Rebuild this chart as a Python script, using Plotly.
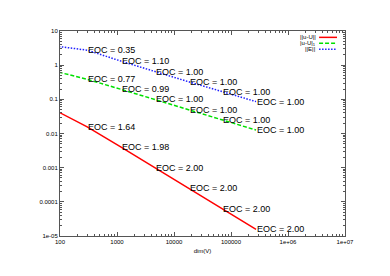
import numpy as np
import plotly.graph_objects as go

# ---- data ----
dims = [75, 300, 1180, 4600, 18200, 70500, 275000]
err_l2 = [0.052, 0.0157, 0.0040, 0.00101, 0.000252, 6.3e-5, 1.57e-5]
err_h1 = [0.69, 0.385, 0.196, 0.099, 0.0498, 0.025, 0.0126]
err_E = [3.7, 2.75, 1.31, 0.64, 0.325, 0.168, 0.0857]
eoc_l2 = ["1.64", "1.98", "2.00", "2.00", "2.00", "2.00"]
eoc_h1 = ["0.77", "0.99", "1.00", "1.00", "1.00", "1.00"]
eoc_E = ["0.35", "1.10", "1.00", "1.00", "1.00", "1.00"]
names = ["||u-U||", "|u-U|<sub>1</sub>", "||E||"]

x_ticks = [1e2, 1e3, 1e4, 1e5, 1e6, 1e7]
x_ticktext = ["100", "1000", "10000", "100000", "1e+06", "1e+07"]
y_ticks = [1e-5, 1e-4, 1e-3, 1e-2, 1e-1, 1, 10]
y_ticktext = ["1e-05", "0.0001", "0.001", "0.01", "0.1", "1", "10"]

FONT = "Liberation Sans, Arial, sans-serif"
series = [
    (err_l2, eoc_l2, "#ff0000", "solid"),
    (err_h1, eoc_h1, "#00e000", "4px,2px"),
    (err_E, eoc_E, "#2020ff", "1.5px,1.5px"),
]

fig = go.Figure()
annotations = []
shapes = []
for (vals, eocs, col, dash), nm, k in zip(series, names, range(3)):
    fig.add_trace(go.Scatter(x=dims, y=vals, mode="lines", name=nm,
                             line=dict(color=col, width=1.5, dash=dash),
                             showlegend=False, cliponaxis=True, hoverinfo="skip"))
    for xv, yv, e in zip(dims[1:], vals[1:], eocs):
        annotations.append(dict(x=np.log10(xv), y=np.log10(yv), xref="x", yref="y",
                                text="EOC = " + e, showarrow=False,
                                xanchor="left", yanchor="middle", borderpad=0,
                                font=dict(size=9, color="black", family=FONT)))
    # manual gnuplot-style key (text right, sample on the right)
    ly = 0.969 - 0.029 * k
    annotations.append(dict(x=0.9007, y=ly, xref="paper", yref="paper", text=nm,
                            showarrow=False, xanchor="right", yanchor="middle",
                            borderpad=0, font=dict(size=6, color="black", family=FONT)))
    shapes.append(dict(type="line", xref="paper", yref="paper", x0=0.909, x1=0.972,
                       y0=ly, y1=ly, line=dict(color=col, width=1.5, dash=dash)))

minor_x = [m * 10 ** d for d in range(2, 7) for m in range(2, 10)]
minor_y = [m * 10.0 ** d for d in range(-5, 1) for m in range(2, 10)]

axis_common = dict(type="log", showline=True, linecolor="#555", linewidth=1,
                   mirror="allticks", ticks="inside", ticklen=4, tickcolor="#555",
                   showgrid=False, zeroline=False,
                   tickfont=dict(size=6, color="black", family=FONT))

fig.update_xaxes(range=[2, 7], tickmode="array", tickvals=x_ticks, ticktext=x_ticktext,
                 minor=dict(ticks="inside", ticklen=2, tickcolor="#555",
                            tickmode="array", tickvals=minor_x, showgrid=False),
                 title=dict(text="dim(V)", font=dict(size=6, color="black", family=FONT),
                            standoff=4),
                 **axis_common)
fig.update_yaxes(range=[-5, 1], tickmode="array", tickvals=y_ticks, ticktext=y_ticktext,
                 minor=dict(ticks="inside", ticklen=2, tickcolor="#555",
                            tickmode="array", tickvals=minor_y, showgrid=False),
                 **axis_common)

fig.update_layout(width=390, height=276, margin=dict(l=60, r=45, t=31, b=40),
                  paper_bgcolor="white", plot_bgcolor="white",
                  annotations=annotations, shapes=shapes,
                  font=dict(family=FONT), hovermode=False)

fig.write_html("out.html", config={"displayModeBar": False},
               post_script="document.body.style.margin='0';document.body.style.overflow='hidden';")
